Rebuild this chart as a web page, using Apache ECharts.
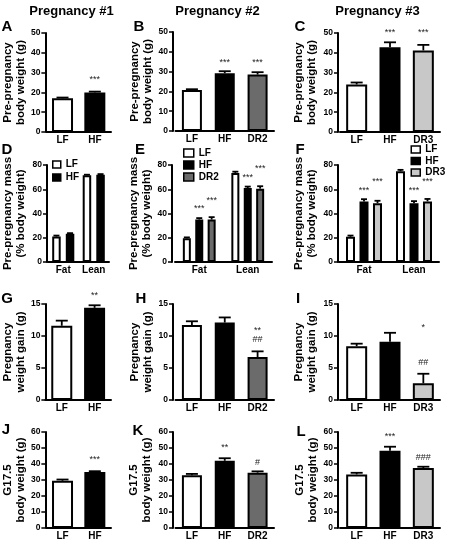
<!DOCTYPE html>
<html><head><meta charset="utf-8">
<script src="https://cdn.jsdelivr.net/npm/echarts@6/dist/echarts.min.js"></script>
<style>html,body{margin:0;padding:0;background:#fff}#c{width:451px;height:544px}</style>
</head><body><div id="c"></div>
<script>
// ---------- DATA ----------
const catsP1 = ['LF', 'HF'];
const catsP2 = ['LF', 'HF', 'DR2'];
const catsP3 = ['LF', 'HF', 'DR3'];
const catsComp = ['Fat', 'Lean'];

// Pre-pregnancy body weight (g)
const valsA = [17.0, 20.0];        const errsA = [0.4, 0.4];
const valsB = [20.7, 29.2, 28.5];  const errsB = [0.4, 1.0, 1.2];
const valsC = [24.0, 42.8, 41.2];  const errsC = [1.0, 2.5, 2.8];

// Pre-pregnancy mass (% body weight) [Fat, Lean]
const valsD_LF = [21.0, 71.5];  const errsD_LF = [0.8, 0.5];
const valsD_HF = [23.2, 72.0];  const errsD_HF = [0.6, 0.5];
const valsE_LF = [19.5, 73.5];  const errsE_LF = [0.8, 1.0];
const valsE_HF = [35.0, 61.0];  const errsE_HF = [1.2, 1.2];
const valsE_DR2 = [35.0, 60.5]; const errsE_DR2 = [2.0, 2.0];
const valsF_LF = [20.8, 74.8];  const errsF_LF = [1.0, 1.2];
const valsF_HF = [50.0, 48.5];  const errsF_HF = [1.8, 1.7];
const valsF_DR3 = [48.5, 50.0]; const errsF_DR3 = [2.0, 2.0];

// Pregnancy weight gain (g)
const valsG = [11.6, 14.4];       const errsG = [0.8, 0.4];
const valsH = [11.7, 12.1, 6.7];  const errsH = [0.6, 0.8, 0.9];
const valsI = [8.4, 9.1, 2.6];    const errsI = [0.4, 1.4, 1.5];

// G17.5 body weight (g)
const valsJ = [29.5, 35.0];       const errsJ = [0.8, 0.5];
const valsK = [33.0, 42.0, 34.6]; const errsK = [0.8, 1.6, 0.8];
const valsL = [33.5, 48.3, 37.5]; const errsL = [1.0, 2.5, 0.8];

// significance marks: [category, group member, value level, text]
const sigA = [['HF', null, 26.3, '***']];
const sigB = [['HF', null, 34.8, '***'], ['DR2', null, 34.8, '***']];
const sigC = [['HF', null, 50, '***'], ['DR3', null, 50, '***']];
const sigD = [];
const sigE = [['Fat', 'HF', 44.5, '***'], ['Fat', 'DR2', 51, '***'], ['Lean', 'HF', 70, '***'], ['Lean', 'DR2', 76.7, '***']];
const sigF = [['Fat', 'HF', 58.6, '***'], ['Fat', 'DR3', 66, '***'], ['Lean', 'HF', 58.6, '***'], ['Lean', 'DR3', 66, '***']];
const sigG = [['HF', null, 16.4, '**']];
const sigH = [['DR2', null, 10.9, '**'], ['DR2', null, 9.4, '##']];
const sigI = [['DR3', null, 11.4, '*'], ['DR3', null, 5.9, '##']];
const sigJ = [['HF', null, 42.5, '***']];
const sigK = [['HF', null, 50, '**'], ['DR2', null, 41, '#']];
const sigL = [['HF', null, 57, '***'], ['DR3', null, 44, '###']];

// ---------- STYLE / LAYOUT ----------
const FONT = 'Arial, "Liberation Sans", Helvetica, sans-serif';
const groupColor = { LF: '#ffffff', HF: '#000000', DR2: '#6b6b6b', DR3: '#c8c8c8' };

const singlePanels = [
  { id: 'A', grid: [43, 33, 68, 99], axisX: 42, cats: catsP1, vals: valsA, errs: errsA, max: 50, interval: 10, name: 'Pre-pregnancy\nbody weight (g)', gap: 17, sig: sigA, bw: 21 },
  { id: 'B', grid: [175.5, 32, 98.5, 99], axisX: 173, cats: catsP2, vals: valsB, errs: errsB, max: 50, interval: 10, name: 'Pre-pregnancy\nbody weight (g)', gap: 18, sig: sigB, bw: 20 },
  { id: 'C', grid: [340, 33, 100, 99], axisX: 338, cats: catsP3, vals: valsC, errs: errsC, max: 50, interval: 10, name: 'Pre-pregnancy\nbody weight (g)', gap: 20, sig: sigC, bw: 21 },
  { id: 'G', grid: [43, 304, 68, 96], axisX: 43, cats: catsP1, vals: valsG, errs: errsG, max: 15, interval: 5, name: 'Pregnancy\nweight gain (g)', gap: 16, sig: sigG, bw: 21 },
  { id: 'H', grid: [175.5, 304, 98.5, 96], axisX: 173, cats: catsP2, vals: valsH, errs: errsH, max: 15, interval: 5, name: 'Pregnancy\nweight gain (g)', gap: 15, sig: sigH, bw: 20 },
  { id: 'I', grid: [340, 304, 100, 96], axisX: 338, cats: catsP3, vals: valsI, errs: errsI, max: 15, interval: 5, name: 'Pregnancy\nweight gain (g)', gap: 20, sig: sigI, bw: 21 },
  { id: 'J', grid: [43, 432, 68, 96], axisX: 42, cats: catsP1, vals: valsJ, errs: errsJ, max: 60, interval: 10, name: 'G17.5\nbody weight (g)', gap: 17, sig: sigJ, bw: 21 },
  { id: 'K', grid: [175.5, 432, 98.5, 96], axisX: 173, cats: catsP2, vals: valsK, errs: errsK, max: 60, interval: 10, name: 'G17.5\nbody weight (g)', gap: 20, sig: sigK, bw: 20 },
  { id: 'L', grid: [340, 432, 100, 96], axisX: 338, cats: catsP3, vals: valsL, errs: errsL, max: 60, interval: 10, name: 'G17.5\nbody weight (g)', gap: 18, sig: sigL, bw: 21 }
];

const groupPanels = [
  { id: 'D', grid: [44, 165, 65, 97], axisX: 43, gap: 20, bw: 8.5, barGap: 0.6,
    groups: [['LF', valsD_LF, errsD_LF], ['HF', valsD_HF, errsD_HF]], sig: sigD },
  { id: 'E', grid: [175, 165, 97, 97], axisX: 172, gap: 15, bw: 8, barGap: 0.55,
    groups: [['LF', valsE_LF, errsE_LF], ['HF', valsE_HF, errsE_HF], ['DR2', valsE_DR2, errsE_DR2]], sig: sigE },
  { id: 'F', grid: [339, 165, 100, 97], axisX: 338, gap: 20, bw: 9, barGap: 0.5,
    groups: [['LF', valsF_LF, errsF_LF], ['HF', valsF_HF, errsF_HF], ['DR3', valsF_DR3, errsF_DR3]], sig: sigF }
];

const grids = [], xAxes = [], yAxes = [], series = [];

function makeAxes(p, cats, max, interval, name) {
  const idx = grids.length;
  grids.push({ left: p.grid[0], top: p.grid[1], width: p.grid[2], height: p.grid[3], containLabel: false });
  xAxes.push({
    type: 'category', gridIndex: idx, data: cats,
    axisLine: { lineStyle: { color: '#000', width: 2 } },
    axisTick: { show: false },
    axisLabel: { color: '#000', fontSize: 10, fontWeight: 'bold', fontFamily: FONT, margin: 3 }
  });
  yAxes.push({
    type: 'value', gridIndex: idx, min: 0, max: max, interval: interval,
    offset: p.grid[0] - p.axisX,
    axisLine: { show: true, lineStyle: { color: '#000', width: 2 } },
    axisTick: { show: true, length: 4, lineStyle: { color: '#000', width: 1.5 } },
    axisLabel: { color: '#000', fontSize: 8.5, fontWeight: 'bold', fontFamily: FONT, margin: 5 },
    splitLine: { show: false },
    name: name, nameLocation: 'middle', nameRotate: 90, nameGap: p.gap,
    nameTextStyle: { color: '#000', fontSize: 11.5, fontWeight: 'bold', fontFamily: FONT, lineHeight: 13 }
  });
  return idx;
}

function errSeries(idx, data, offsets, capHalf) {
  return {
    type: 'custom', name: 'err' + idx, xAxisIndex: idx, yAxisIndex: idx, z: 5, clip: false,
    data: data,
    renderItem: function (params, api) {
      const ci = api.value(0), v = api.value(1), e = api.value(2), k = api.value(3);
      const p0 = api.coord([ci, v]);
      const p1 = api.coord([ci, v + e]);
      const cx = p0[0] + offsets[k];
      return {
        type: 'group', children: [
          { type: 'line', shape: { x1: cx, y1: p0[1], x2: cx, y2: p1[1] }, style: { stroke: '#000', lineWidth: 1.8 } },
          { type: 'line', shape: { x1: cx - capHalf, y1: p1[1], x2: cx + capHalf, y2: p1[1] }, style: { stroke: '#000', lineWidth: 1.8 } }
        ]
      };
    }
  };
}

function sigSeries(idx, data, offsets) {
  return {
    type: 'custom', name: 'sig' + idx, xAxisIndex: idx, yAxisIndex: idx, z: 6, clip: false,
    data: data,
    renderItem: function (params, api) {
      const ci = api.value(0), lvl = api.value(1), k = api.value(2);
      const txt = data[params.dataIndex][3];
      const p = api.coord([ci, lvl]);
      return {
        type: 'text', x: p[0] + offsets[k], y: p[1],
        style: { text: txt, fill: '#222', font: '9px ' + FONT, align: 'center', verticalAlign: 'middle' }
      };
    }
  };
}

singlePanels.forEach(p => {
  const idx = makeAxes(p, p.cats, p.max, p.interval, p.name);
  series.push({
    type: 'bar', name: 'bars' + p.id, xAxisIndex: idx, yAxisIndex: idx, barWidth: p.bw,
    data: p.vals.map((v, i) => ({ value: v, itemStyle: { color: groupColor[p.cats[i]] } })),
    itemStyle: { borderColor: '#000', borderWidth: 2 }
  });
  series.push(errSeries(idx, p.vals.map((v, i) => [i, v, p.errs[i], 0]), [0], 6));
  series.push(sigSeries(idx, p.sig.map(s => [p.cats.indexOf(s[0]), s[2], 0, s[3]]), [0]));
});

groupPanels.forEach(p => {
  const idx = makeAxes(p, catsComp, 80, 20, 'Pre-pregnancy mass\n(% body weight)');
  const n = p.groups.length;
  const pitch = p.bw * (1 + p.barGap);
  const offsets = p.groups.map((g, k) => (k - (n - 1) / 2) * pitch);
  const errData = [];
  p.groups.forEach((g, k) => {
    series.push({
      type: 'bar', name: g[0], xAxisIndex: idx, yAxisIndex: idx, barWidth: p.bw, barGap: (p.barGap * 100) + '%',
      data: g[1],
      itemStyle: { color: groupColor[g[0]], borderColor: '#000', borderWidth: 2 }
    });
    g[1].forEach((v, i) => errData.push([i, v, g[2][i], k]));
  });
  series.push(errSeries(idx, errData, offsets, 3));
  const names = p.groups.map(g => g[0]);
  series.push(sigSeries(idx, p.sig.map(s => [catsComp.indexOf(s[0]), s[2], names.indexOf(s[1]), s[3]]), offsets));
});

const legendCommon = {
  orient: 'vertical', icon: 'rect', selectedMode: false, padding: 0,
  itemStyle: { borderColor: '#000', borderWidth: 1.5 },
  textStyle: { color: '#000', fontSize: 10, fontWeight: 'bold', fontFamily: FONT }
};
const legends = [
  Object.assign({}, legendCommon, { left: 52, top: 159.5, itemWidth: 8, itemHeight: 7, itemGap: 3, data: ['LF', 'HF'] }),
  Object.assign({}, legendCommon, { left: 183, top: 148, itemWidth: 10, itemHeight: 8, itemGap: 2, data: ['LF', 'HF', 'DR2'] }),
  Object.assign({}, legendCommon, { left: 410.5, top: 144.5, itemWidth: 9, itemHeight: 7, itemGap: 1.5, data: ['LF', 'HF', 'DR3'] })
];

const labels = [
  ['Pregnancy #1', 71.5, 11, 13], ['Pregnancy #2', 217.5, 11, 13], ['Pregnancy #3', 377.5, 11, 13],
  ['A', 7, 27, 15], ['B', 139, 27, 15], ['C', 300, 27, 15],
  ['D', 7, 150, 15], ['E', 140, 150, 15], ['F', 300, 150, 15],
  ['G', 7, 299, 15], ['H', 141, 299, 15], ['I', 298, 299, 15],
  ['J', 6, 430, 15], ['K', 138, 431, 15], ['L', 301, 432, 15]
];
const graphics = labels.map(l => ({
  type: 'text', x: l[1], y: l[2],
  style: { text: l[0], fill: '#000', font: 'bold ' + l[3] + 'px ' + FONT, align: 'center', verticalAlign: 'middle' }
}));

const chart = echarts.init(document.getElementById('c'), null, { renderer: 'canvas', width: 451, height: 544 });
chart.setOption({
  animation: false,
  backgroundColor: '#fff',
  grid: grids, xAxis: xAxes, yAxis: yAxes,
  legend: legends,
  graphic: graphics,
  series: series
});
</script>
</body></html>
